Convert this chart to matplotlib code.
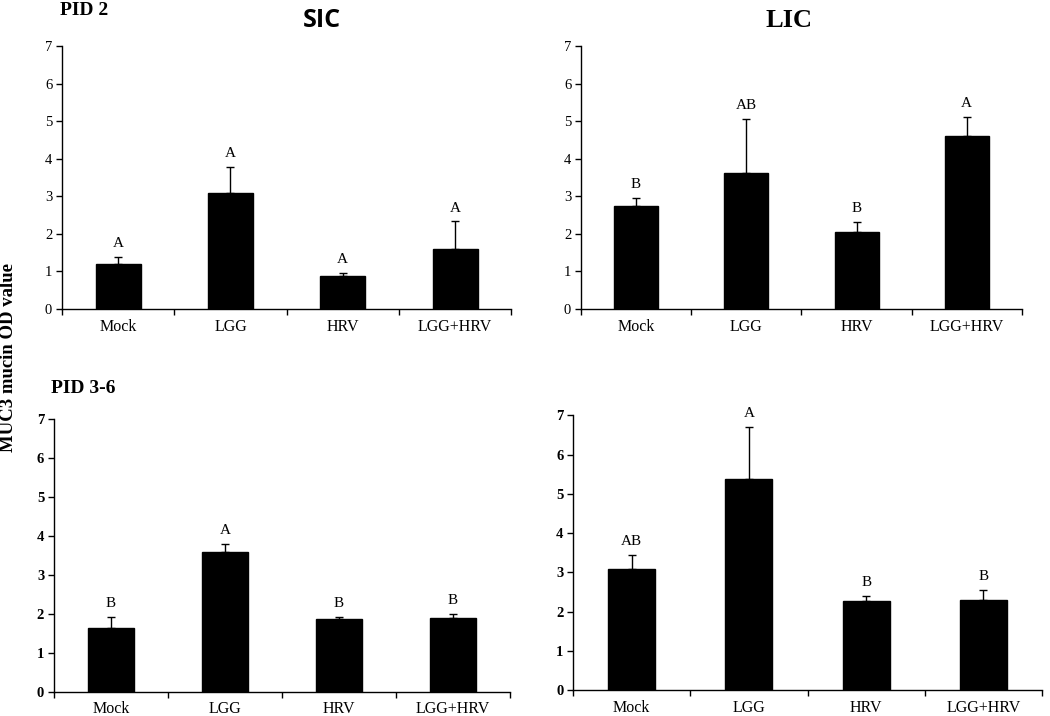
import matplotlib
matplotlib.use("Agg")
import matplotlib.pyplot as plt
import numpy as np

categories = ["Mock", "LGG", "HRV", "LGG+HRV"]

sic_pid2_mean = [1.19, 3.09, 0.88, 1.61]
sic_pid2_err = [0.19, 0.68, 0.07, 0.72]
sic_pid2_letters = ["A", "A", "A", "A"]

lic_pid2_mean = [2.75, 3.62, 2.04, 4.61]
lic_pid2_err = [0.20, 1.44, 0.28, 0.50]
lic_pid2_letters = ["B", "AB", "B", "A"]

sic_pid36_mean = [1.64, 3.57, 1.86, 1.88]
sic_pid36_err = [0.28, 0.23, 0.06, 0.12]
sic_pid36_letters = ["B", "A", "B", "B"]

lic_pid36_mean = [3.08, 5.37, 2.26, 2.30]
lic_pid36_err = [0.35, 1.33, 0.13, 0.24]
lic_pid36_letters = ["AB", "A", "B", "B"]

yticks = [0, 1, 2, 3, 4, 5, 6, 7]

serif = "Liberation Serif"
plt.rcParams["font.family"] = serif

fig = plt.figure(figsize=(10.5, 7.16), dpi=100)

panels = [
    ([0.059, 0.5684, 0.428, 0.3674], sic_pid2_mean, sic_pid2_err, sic_pid2_letters, False),
    ([0.5533, 0.5684, 0.42, 0.3674], lic_pid2_mean, lic_pid2_err, lic_pid2_letters, False),
    ([0.0514, 0.0339, 0.4343, 0.3813], sic_pid36_mean, sic_pid36_err, sic_pid36_letters, True),
    ([0.5457, 0.0363, 0.4467, 0.3837], lic_pid36_mean, lic_pid36_err, lic_pid36_letters, True),
]

axes = []
for rect, mean, err, letters, bold_y in panels:
    ax = fig.add_axes(rect)
    x = np.arange(len(categories))
    ax.bar(x, mean, width=0.4, color="black", edgecolor="black")
    ax.errorbar(x, mean, yerr=[np.zeros(len(mean)), err], fmt="none",
                ecolor="black", elinewidth=1, capsize=3, capthick=1)
    for xi, m, e, lab in zip(x, mean, err, letters):
        ax.annotate(lab, (xi, m + e), xytext=(0, 5), textcoords="offset points",
                    ha="center", va="bottom", fontsize=11, fontfamily=serif)
    ax.set_xlim(-0.5, 3.5)
    ax.set_ylim(0, 7)
    ax.set_yticks(yticks)
    ax.set_yticklabels([str(t) for t in yticks],
                       fontweight="bold" if bold_y else "normal", fontsize=10.5)
    ax.set_xticks(x)
    ax.set_xticklabels(categories, fontsize=11.5)
    ax.tick_params(axis="x", which="major", length=0, pad=7)
    ax.set_xticks(np.arange(-0.5, 4.0, 1.0), minor=True)
    ax.tick_params(axis="x", which="minor", length=4, direction="out", width=1)
    ax.tick_params(axis="y", length=4, direction="out", width=1, pad=3)
    for s in ["top", "right"]:
        ax.spines[s].set_visible(False)
    for s in ["left", "bottom"]:
        ax.spines[s].set_linewidth(1)
    axes.append(ax)

fig.text(0.307, 0.971, "SIC", ha="center", va="center", fontsize=18,
         fontweight="bold", fontfamily="Open Sans")
fig.text(0.7514, 0.972, "LIC", ha="center", va="center", fontsize=19,
         fontweight="bold", fontfamily=serif)
fig.text(0.057, 0.986, "PID 2", ha="left", va="center", fontsize=14,
         fontweight="bold", fontfamily=serif)
fig.text(0.049, 0.458, "PID 3-6", ha="left", va="center", fontsize=14,
         fontweight="bold", fontfamily=serif)
fig.text(0.008, 0.5, "MUC3 mucin OD value", ha="center", va="center",
         rotation=90, fontsize=13.5, fontweight="bold", fontfamily=serif)

fig.savefig("out.png", dpi=100)
